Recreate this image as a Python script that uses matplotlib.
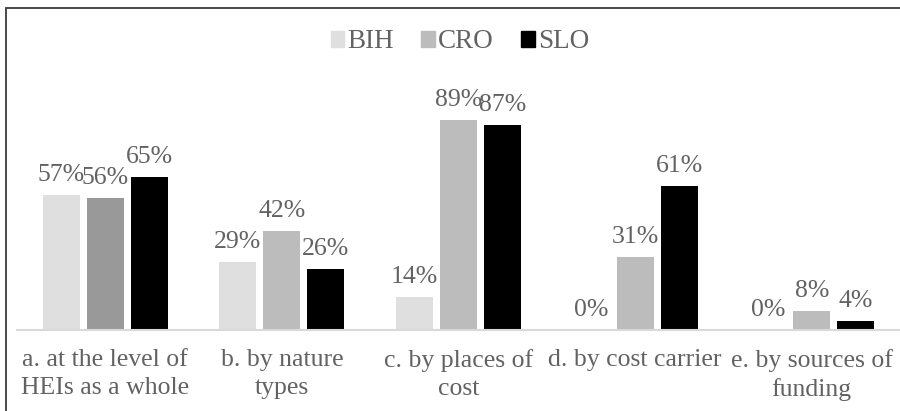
import matplotlib
matplotlib.use("Agg")
import matplotlib.pyplot as plt
from matplotlib.patches import Patch, Rectangle
import numpy as np

# categories and values (percent)
categories = ["a. at the level of\nHEIs as a whole", "b. by nature\ntypes",
              "c. by places of\ncost", "d. by cost carrier", "e. by sources of\nfunding"]
series_names = ["BIH", "CRO", "SLO"]
bih = [57, 29, 14, 0, 0]
cro = [56, 42, 89, 31, 8]
slo = [65, 26, 87, 61, 4]

# styles
colors = ["#dfdfdf", "#bcbcbc", "#000000"]
cro_first_color = "#999999"
text_color = "#626262"
fs = 18.5

plt.rcParams["font.family"] = ["Liberation Serif", "DejaVu Serif"]

fig = plt.figure(figsize=(9, 4.11), dpi=100)
ax = fig.add_axes([17 / 900, 81 / 411, 1 - 17 / 900, 236 / 411])

x = np.arange(len(categories))
width = 0.21
offset = 0.249

for i, vals in enumerate([bih, cro, slo]):
    bar_colors = [colors[i]] * len(vals)
    if i == 1:
        bar_colors[0] = cro_first_color
    bars = ax.bar(x + (i - 1) * offset, vals, width, color=bar_colors, zorder=2)
    for b, v in zip(bars, vals):
        ax.annotate(f"{v}%", (b.get_x() + b.get_width() / 2, b.get_height()),
                    xytext=(0, 6.5), textcoords="offset points",
                    ha="center", va="bottom", fontsize=fs, color=text_color)

ax.set_xlim(-0.5, 4.5)
ax.set_ylim(0, 100)
ax.set_yticks([])
ax.set_xticks(x)
ax.set_xticklabels(categories, fontsize=fs, color=text_color, linespacing=1.3)
ax.tick_params(axis="x", length=0, pad=14)
for s in ["top", "right", "left"]:
    ax.spines[s].set_visible(False)
ax.spines["bottom"].set_color("#d9d9d9")
ax.spines["bottom"].set_linewidth(1.5)
ax.set_facecolor("none")

handles = [Patch(color=c) for c in colors]
leg = fig.legend(handles, series_names, loc="center", bbox_to_anchor=(460 / 900, 1 - 42 / 411),
                 ncol=3, frameon=False, fontsize=19.5, handlelength=0.5, handleheight=0.5,
                 handletextpad=0.12, columnspacing=1.0)
for t in leg.get_texts():
    t.set_color(text_color)

# outer frame
fig.patches.append(Rectangle((6 / 900, -0.05), 1.1, 1 - 7.5 / 411 + 0.05,
                             transform=fig.transFigure, fill=False,
                             edgecolor="#3a3a3a", linewidth=1.3))

fig.savefig("out.png", dpi=100)
